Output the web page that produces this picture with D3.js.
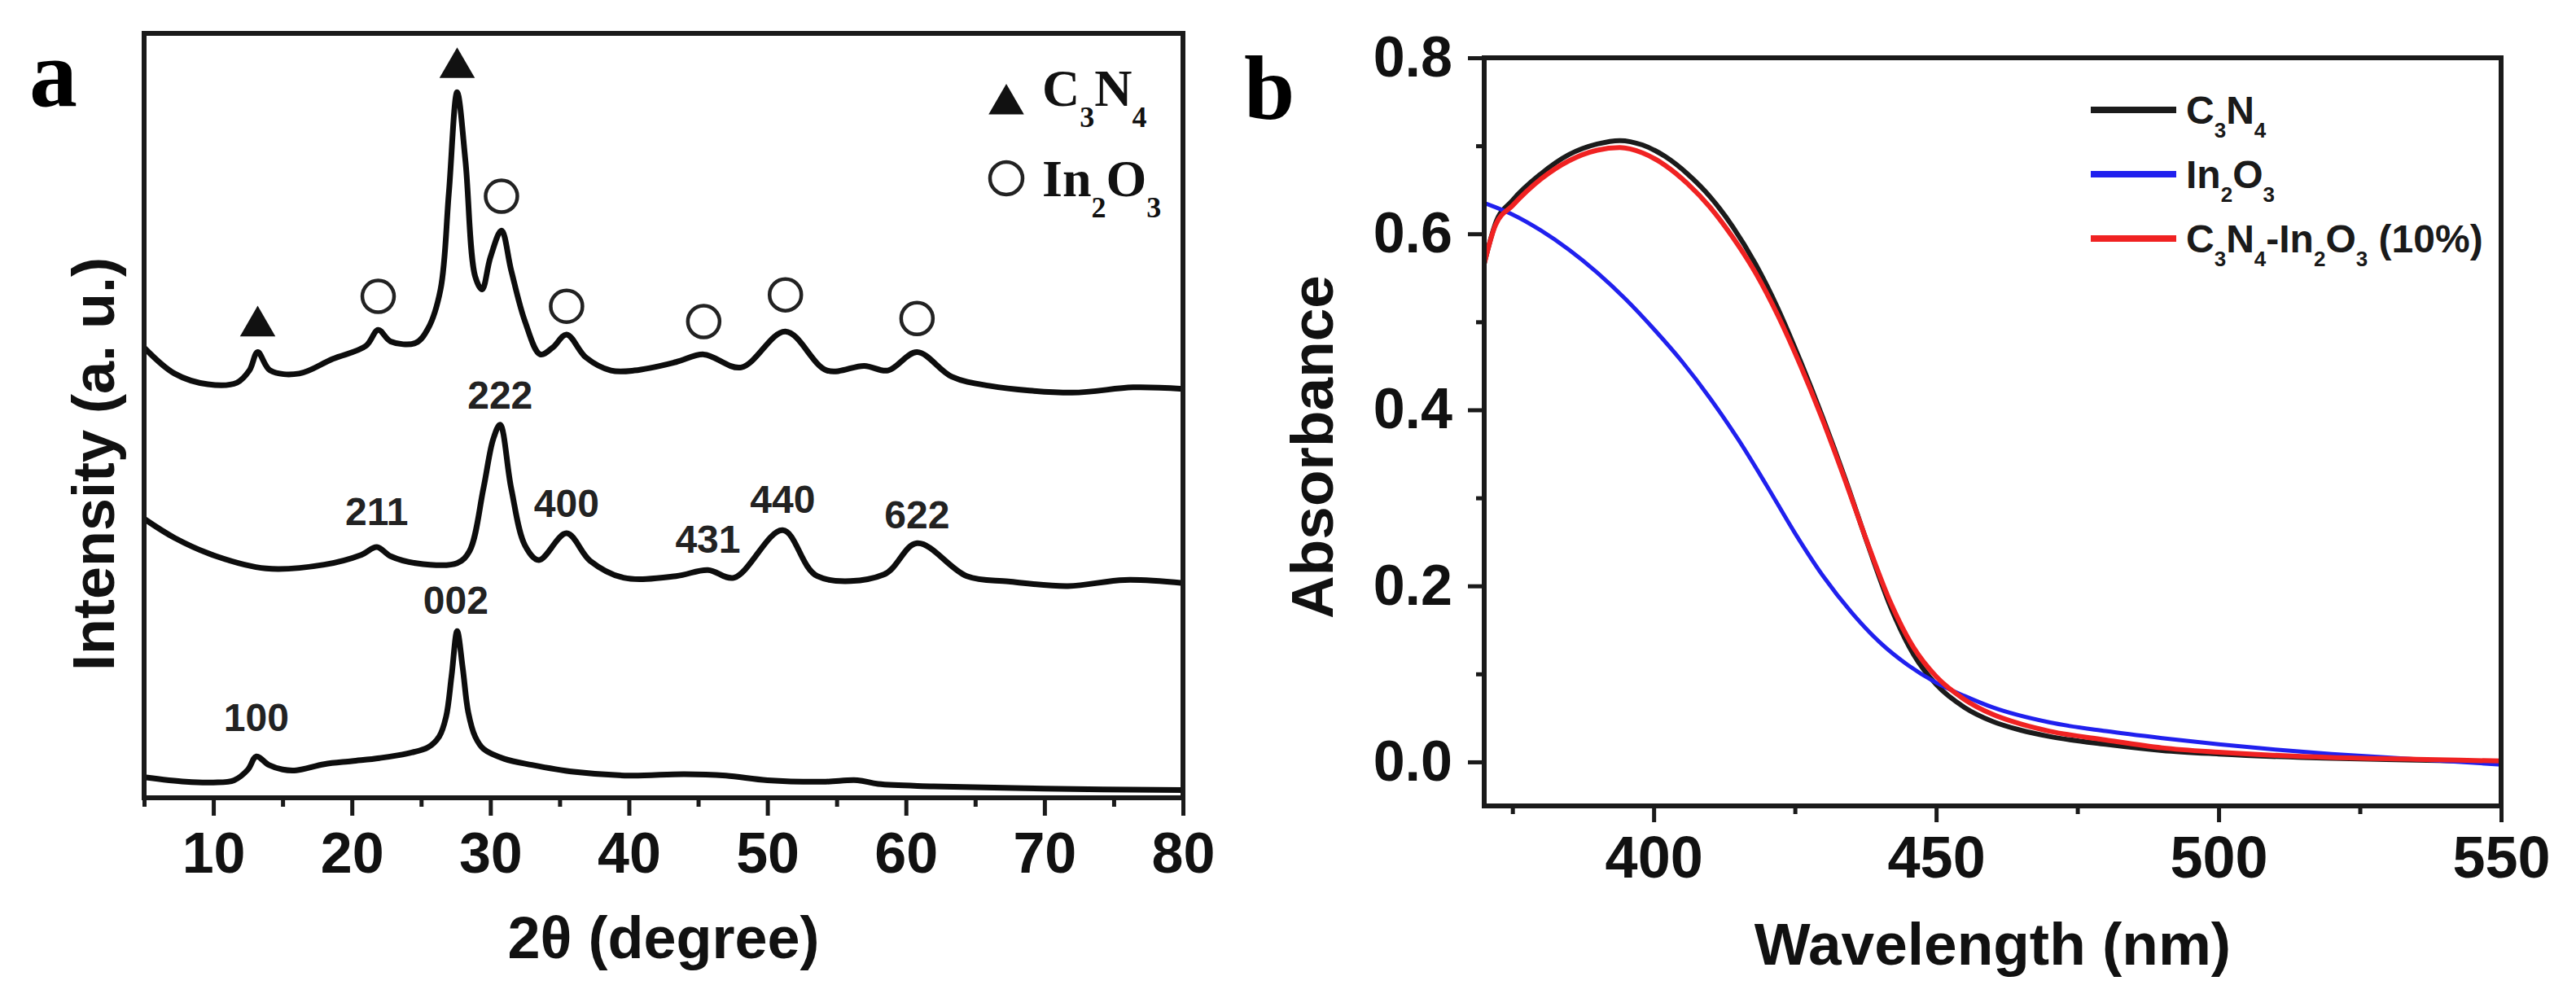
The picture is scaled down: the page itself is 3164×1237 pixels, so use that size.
<!DOCTYPE html>
<html>
<head>
<meta charset="utf-8">
<script src="https://cdn.jsdelivr.net/npm/d3@7"></script>
<style>
  html, body { margin: 0; padding: 0; background: #fff; }
  svg { display: block; }
</style>
</head>
<body>
<svg id="fig" width="3164" height="1237"></svg>
<script>
// ---- panel a: XRD patterns (2theta in degree, intensity in a.u.) ----
const hybridTheta = [5, 7.2, 9.6, 11.7, 12.6, 13.2, 14.1, 16.2, 18.6, 21, 21.9, 22.8, 24.6, 25.5, 26.4, 27, 27.6, 28.2, 28.9, 29.4, 30, 30.8, 31.5, 32.5, 33.6, 34.5, 35.5, 36.9, 38.7, 40.4, 43.4, 45.4, 48.1, 51.3, 54.3, 57, 58.7, 60.8, 63.3, 66, 72, 76.4, 80];
const hybridInt = [58.9, 55.5, 54.1, 54.3, 55.9, 58.3, 55.9, 55.5, 57.4, 59.1, 61.2, 59.7, 59.5, 61.4, 66.5, 79.1, 92.3, 83.3, 68.2, 66.5, 70.7, 74.2, 69.0, 62.3, 58.0, 58.9, 60.6, 57.6, 55.9, 55.9, 57.0, 58.0, 56.3, 61.0, 55.9, 56.5, 55.9, 58.3, 55.1, 53.9, 53.0, 53.7, 53.5];

const in2o3Theta = [5, 7.2, 10.2, 13.8, 18, 20.7, 21.8, 22.8, 24.6, 27.6, 28.5, 29.5, 30.2, 30.7, 31.5, 32.5, 33.5, 35.5, 37.2, 39.6, 43.4, 45.7, 47.6, 51.1, 53.6, 58.4, 60.8, 64.4, 67.4, 71.7, 75.8, 80];
const in2o3Int = [36.5, 34.0, 31.6, 30.0, 30.5, 31.8, 32.8, 31.6, 30.7, 30.7, 32.3, 40.5, 46.9, 48.8, 40.5, 33.0, 31.1, 34.6, 31.0, 28.8, 29.0, 29.8, 28.8, 35.0, 29.0, 29.2, 33.3, 29.0, 28.3, 27.7, 28.5, 28.1];

const c3n4Theta = [5, 8, 10, 11.5, 12.5, 13.1, 14, 15, 16, 18, 20, 22, 24, 25.5, 26.3, 26.8, 27.2, 27.6, 28, 28.4, 28.9, 29.5, 31, 33, 36, 40, 44, 47, 50, 54, 56.5, 58, 62, 70, 80];
const c3n4Int = [2.7, 2.1, 2.0, 2.3, 3.7, 5.4, 4.3, 3.7, 3.6, 4.4, 4.8, 5.2, 5.8, 6.6, 8.0, 10.6, 16.0, 21.8, 17.0, 11.2, 8.0, 6.4, 5.1, 4.3, 3.4, 2.9, 3.1, 2.9, 2.3, 2.1, 2.3, 1.8, 1.5, 1.2, 1.0];

const thetaMajor = [10, 20, 30, 40, 50, 60, 70, 80];
const thetaMinor = [5, 15, 25, 35, 45, 55, 65, 75];

// phase markers above the top pattern
const triangleTheta = [13.2, 27.6];
const triangleInt = [61.7, 95.5];
const circleTheta = [21.9, 30.8, 35.5, 45.4, 51.3, 60.8];
const circleInt = [65.6, 78.7, 64.3, 62.3, 65.8, 62.7];

// reflection indices
const hklLabels = ['211', '222', '400', '431', '440', '622', '100', '002'];
const hklTheta = [21.8, 30.7, 35.5, 45.7, 51.1, 60.8, 13.1, 27.5];
const hklInt = [35.7, 50.9, 36.7, 32.1, 37.3, 35.3, 8.7, 24.1];

// ---- panel b: UV-vis absorbance ----
const c3n4Wave = [370, 372, 375, 380, 385, 390, 394, 398, 402, 406, 410, 414, 418, 422, 426, 430, 434, 438, 442, 446, 450, 455, 460, 465, 470, 480, 490, 500, 520, 535, 550];
const c3n4Abs = [0.566, 0.612, 0.638, 0.668, 0.690, 0.702, 0.706, 0.701, 0.688, 0.668, 0.642, 0.608, 0.566, 0.515, 0.455, 0.390, 0.320, 0.245, 0.175, 0.122, 0.088, 0.062, 0.046, 0.036, 0.029, 0.020, 0.013, 0.009, 0.004, 0.002, 0.000];

const in2o3Wave = [370, 375, 380, 385, 390, 395, 400, 405, 410, 415, 420, 425, 430, 435, 440, 445, 450, 455, 460, 470, 480, 490, 500, 510, 520, 535, 550];
const in2o3Abs = [0.635, 0.622, 0.604, 0.582, 0.556, 0.526, 0.492, 0.455, 0.413, 0.366, 0.314, 0.260, 0.211, 0.170, 0.136, 0.110, 0.090, 0.075, 0.062, 0.045, 0.035, 0.027, 0.020, 0.014, 0.009, 0.003, -0.003];

const hybridWave = [370, 372, 375, 380, 385, 390, 394, 398, 402, 406, 410, 414, 418, 422, 426, 430, 434, 438, 442, 446, 450, 455, 460, 465, 470, 480, 490, 500, 520, 535, 550];
const hybridAbs = [0.566, 0.610, 0.632, 0.662, 0.683, 0.695, 0.698, 0.692, 0.678, 0.657, 0.630, 0.596, 0.556, 0.507, 0.450, 0.387, 0.318, 0.246, 0.180, 0.130, 0.097, 0.071, 0.054, 0.043, 0.035, 0.025, 0.016, 0.011, 0.005, 0.003, 0.001];

const waveMajor = [400, 450, 500, 550];
const waveMinor = [375, 425, 475, 525];
const absMajor = [0.0, 0.2, 0.4, 0.6, 0.8];
const absMinor = [0.1, 0.3, 0.5, 0.7];

const uvNames = ['C3N4', 'In2O3', 'C3N4-In2O3 (10%)'];
const uvColors = ['#1b1b1b', '#2020ee', '#f02222'];

// ---- layout ----
const SANS = '"Liberation Sans", Arial, Helvetica, sans-serif';
const SERIF = '"Liberation Serif", "Times New Roman", serif';
const INK = '#1a1a1a';
const A = { left: 177, right: 1453, top: 41, bottom: 980 };
const B = { left: 1823, right: 3072, top: 71, bottom: 990 };

const svg = d3.select('#fig');
svg.append('rect').attr('width', 3164).attr('height', 1237).attr('fill', '#fff');

const xA = d3.scaleLinear().domain([5, 80]).range([A.left, A.right]);
const yA = d3.scaleLinear().domain([0, 100]).range([A.bottom, A.top]);
const xB = d3.scaleLinear().domain([370, 550]).range([B.left, B.right]);
const yB = d3.scaleLinear().domain([-0.05, 0.8]).range([B.bottom, B.top]);

const zip = (xs, ys) => xs.map((x, i) => [x, ys[i]]);

function styleAxis(g, size) {
  g.attr('font-family', SANS).attr('font-size', size).attr('font-weight', 'bold');
  g.select('.domain').remove();
  g.selectAll('line').attr('stroke', INK).attr('stroke-width', 5);
  g.selectAll('text').attr('fill', '#111');
}

// subscript digits that follow a letter
function chemText(sel, label, size, subSize, shift) {
  let sub = false;
  for (let i = 0; i < label.length; i++) {
    const ch = label[i];
    const isSub = /[0-9]/.test(ch) && i > 0 && /[A-Za-z]/.test(label[i - 1]);
    const t = sel.append('tspan').text(ch).attr('font-size', isSub ? subSize : size);
    if (isSub && !sub) t.attr('dy', shift);
    if (!isSub && sub) t.attr('dy', -shift);
    sub = isSub;
  }
}

// ================= panel a =================
const gA = svg.append('g');

gA.append('g').attr('transform', `translate(0,${A.bottom})`)
  .call(d3.axisBottom(xA).tickValues(thetaMajor).tickSize(22).tickPadding(20).tickSizeOuter(0).tickFormat(d3.format('d')))
  .call(g => styleAxis(g, 70));
gA.append('g').attr('transform', `translate(0,${A.bottom})`)
  .call(d3.axisBottom(xA).tickValues(thetaMinor).tickSize(11).tickSizeOuter(0).tickFormat(''))
  .call(g => styleAxis(g, 70));

const clipA = svg.append('clipPath').attr('id', 'clipA');
clipA.append('rect').attr('x', A.left).attr('y', A.top).attr('width', A.right - A.left).attr('height', A.bottom - A.top);

const lineA = d3.line().x(d => xA(d[0])).y(d => yA(d[1])).curve(d3.curveCatmullRom.alpha(0.5));
const xrdSeries = [zip(hybridTheta, hybridInt), zip(in2o3Theta, in2o3Int), zip(c3n4Theta, c3n4Int)];
gA.append('g').attr('clip-path', 'url(#clipA)')
  .selectAll('path').data(xrdSeries).join('path')
  .attr('d', lineA).attr('fill', 'none').attr('stroke', '#0d0d0d')
  .attr('stroke-width', 7).attr('stroke-linejoin', 'round');

gA.append('rect').attr('x', A.left).attr('y', A.top)
  .attr('width', A.right - A.left).attr('height', A.bottom - A.top)
  .attr('fill', 'none').attr('stroke', INK).attr('stroke-width', 6);

const tri = d3.symbol(d3.symbolTriangle, 820);
gA.append('g').selectAll('path').data(zip(triangleTheta, triangleInt)).join('path')
  .attr('d', tri).attr('fill', '#111')
  .attr('transform', d => `translate(${xA(d[0])},${yA(d[1])})`);
gA.append('g').selectAll('circle').data(zip(circleTheta, circleInt)).join('circle')
  .attr('cx', d => xA(d[0])).attr('cy', d => yA(d[1])).attr('r', 19.5)
  .attr('fill', 'none').attr('stroke', '#222').attr('stroke-width', 4.5);

gA.append('g').selectAll('text').data(hklLabels).join('text')
  .attr('x', (d, i) => xA(hklTheta[i])).attr('y', (d, i) => yA(hklInt[i]))
  .attr('text-anchor', 'middle').attr('font-family', SANS).attr('font-weight', 'bold')
  .attr('font-size', 48).attr('fill', '#222').text(d => d);

// legend a
gA.append('path').attr('d', tri).attr('fill', '#111').attr('transform', 'translate(1236,128)');
gA.append('circle').attr('cx', 1236).attr('cy', 219).attr('r', 20)
  .attr('fill', 'none').attr('stroke', '#222').attr('stroke-width', 4.5);
['C3N4', 'In2O3'].forEach((lab, i) => {
  const t = gA.append('text').attr('x', 1280).attr('y', 130 + i * 111)
    .attr('font-family', SERIF).attr('font-weight', 'bold').attr('fill', '#111');
  chemText(t, lab, 64, 36, 26);
});

// axis titles a
gA.append('text').attr('x', (A.left + A.right) / 2).attr('y', 1177)
  .attr('text-anchor', 'middle').attr('font-family', SANS).attr('font-weight', 'bold')
  .attr('font-size', 72).attr('fill', '#111').text('2θ (degree)');
gA.append('text').attr('transform', 'translate(140,570) rotate(-90)')
  .attr('text-anchor', 'middle').attr('font-family', SANS).attr('font-weight', 'bold')
  .attr('font-size', 72).attr('fill', '#111').text('Intensity (a. u.)');
gA.append('text').attr('x', 36).attr('y', 130).attr('font-family', SERIF)
  .attr('font-weight', 'bold').attr('font-size', 118).attr('fill', '#000').text('a');

// ================= panel b =================
const gB = svg.append('g');

gB.append('g').attr('transform', `translate(0,${B.bottom})`)
  .call(d3.axisBottom(xB).tickValues(waveMajor).tickSize(20).tickPadding(17).tickSizeOuter(0).tickFormat(d3.format('d')))
  .call(g => styleAxis(g, 72));
gB.append('g').attr('transform', `translate(0,${B.bottom})`)
  .call(d3.axisBottom(xB).tickValues(waveMinor).tickSize(10).tickSizeOuter(0).tickFormat(''))
  .call(g => styleAxis(g, 72));
gB.append('g').attr('transform', `translate(${B.left},0)`)
  .call(d3.axisLeft(yB).tickValues(absMajor).tickSize(20).tickPadding(19).tickSizeOuter(0).tickFormat(d3.format('.1f')))
  .call(g => styleAxis(g, 70));
gB.append('g').attr('transform', `translate(${B.left},0)`)
  .call(d3.axisLeft(yB).tickValues(absMinor).tickSize(10).tickSizeOuter(0).tickFormat(''))
  .call(g => styleAxis(g, 70));

const clipB = svg.append('clipPath').attr('id', 'clipB');
clipB.append('rect').attr('x', B.left).attr('y', B.top).attr('width', B.right - B.left).attr('height', B.bottom - B.top);

const lineB = d3.line().x(d => xB(d[0])).y(d => yB(d[1])).curve(d3.curveMonotoneX);
const uvSeries = [zip(c3n4Wave, c3n4Abs), zip(in2o3Wave, in2o3Abs), zip(hybridWave, hybridAbs)];
gB.append('g').attr('clip-path', 'url(#clipB)')
  .selectAll('path').data(uvSeries).join('path')
  .attr('d', lineB).attr('fill', 'none')
  .attr('stroke', (d, i) => uvColors[i])
  .attr('stroke-width', (d, i) => i === 1 ? 5 : 6);

gB.append('rect').attr('x', B.left).attr('y', B.top)
  .attr('width', B.right - B.left).attr('height', B.bottom - B.top)
  .attr('fill', 'none').attr('stroke', INK).attr('stroke-width', 6);

// legend b
const legB = gB.append('g').selectAll('g').data(uvNames).join('g')
  .attr('transform', (d, i) => `translate(2568,${135 + i * 79})`);
legB.append('line').attr('x1', 0).attr('x2', 105).attr('y1', 0).attr('y2', 0)
  .attr('stroke', (d, i) => uvColors[i]).attr('stroke-width', 8);
legB.append('text').attr('x', 117).attr('y', 17)
  .attr('font-family', SANS).attr('font-weight', 'bold').attr('fill', '#1a1a1a')
  .each(function (d) { chemText(d3.select(this), d, 48, 26, 17); });

// axis titles b
gB.append('text').attr('x', (B.left + B.right) / 2).attr('y', 1185)
  .attr('text-anchor', 'middle').attr('font-family', SANS).attr('font-weight', 'bold')
  .attr('font-size', 73).attr('fill', '#111').text('Wavelength (nm)');
gB.append('text').attr('transform', 'translate(1637,549) rotate(-90)')
  .attr('text-anchor', 'middle').attr('font-family', SANS).attr('font-weight', 'bold')
  .attr('font-size', 73).attr('fill', '#111').text('Absorbance');
gB.append('text').attr('x', 1528).attr('y', 146).attr('font-family', SERIF)
  .attr('font-weight', 'bold').attr('font-size', 112).attr('fill', '#000').text('b');
</script>
</body>
</html>
